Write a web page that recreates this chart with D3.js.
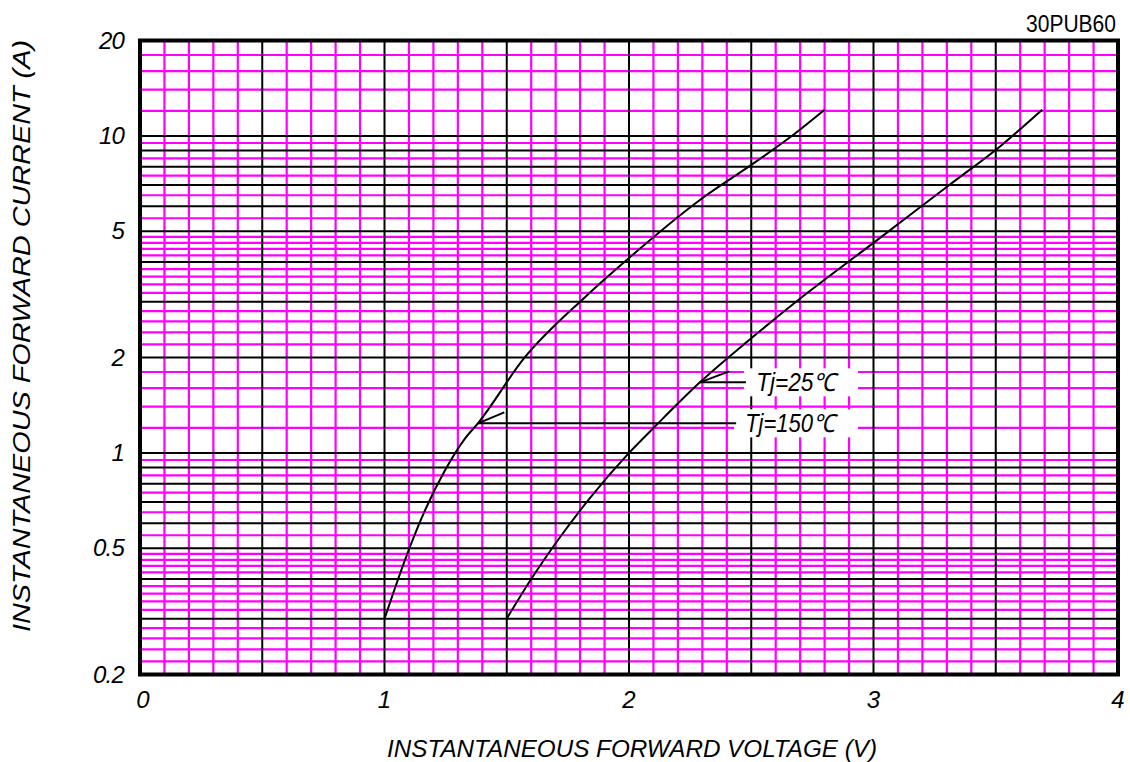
<!DOCTYPE html>
<html>
<head>
<meta charset="utf-8">
<script src="https://cdn.jsdelivr.net/npm/d3@7"></script>
<style>
  html, body { margin: 0; padding: 0; background: #fff; }
  svg { display: block; }
  text { font-family: "Liberation Sans", Arial, sans-serif; fill: #000; }
</style>
</head>
<body>
<svg id="chart" width="1130" height="762"></svg>
<script>
// Forward voltage (V) vs. forward current (A), 30PUB60
const voltageTicks = [0, 1, 2, 3, 4];
const currentTicks = [0.2, 0.5, 1, 2, 5, 10, 20];
const currentTickLabels = ["0.2", "0.5", "1", "2", "5", "10", "20"];

// Tj = 150 °C
const v150 = [1.00, 1.043, 1.084, 1.166, 1.247, 1.329, 1.382, 1.571, 1.82, 2.00, 2.29, 2.50, 2.66, 2.80];
const i150 = [0.30, 0.375, 0.46, 0.66, 0.88, 1.11, 1.24, 1.99, 3.10, 4.12, 6.28, 8.10, 9.92, 12.1];

// Tj = 25 °C
const v25 = [1.50, 1.60, 1.72, 1.84, 2.00, 2.11, 2.29, 2.50, 2.70, 3.00, 3.31, 3.52, 3.69];
const i25 = [0.30, 0.40, 0.545, 0.72, 1.00, 1.22, 1.67, 2.30, 3.07, 4.60, 7.00, 9.30, 12.1];

const seriesLabels = ["Tj=25\u2103", "Tj=150\u2103"];
const partName = "30PUB60";
const xTitle = "INSTANTANEOUS FORWARD VOLTAGE (V)";
const yTitle = "INSTANTANEOUS FORWARD CURRENT (A)";

const svg = d3.select("#chart");
const x = d3.scaleLinear().domain([0, 4]).range([140, 1118]);
const y = d3.scaleLog().domain([0.2, 20]).range([674.5, 40.5]);

const MAGENTA = "#ff00ff";

// grid positions
const vMinor = d3.range(1, 40).map(d => d / 10).filter(d => Math.abs(d * 2 - Math.round(d * 2)) > 1e-6);
const vMajor = [0.5, 1, 1.5, 2, 2.5, 3, 3.5];
const iMajor = [0.3, 0.4, 0.5, 0.6, 0.7, 0.8, 0.9, 1, 2, 3, 4, 5, 6, 7, 8, 9, 10];
const iMinor = [
  0.22, 0.24, 0.26, 0.28, 0.32, 0.34, 0.36, 0.38, 0.42, 0.44, 0.46, 0.48,
  0.55, 0.65, 0.75, 0.85, 0.95,
  1.2, 1.4, 1.6, 1.8, 2.2, 2.4, 2.6, 2.8, 3.2, 3.4, 3.6, 3.8, 4.2, 4.4, 4.6, 4.8,
  5.5, 6.5, 7.5, 8.5, 9.5,
  12, 14, 16, 18
];

const [x0, x1] = x.range();
const [yb, yt] = y.range();

const grid = svg.append("g");
// magenta minor lines
grid.selectAll(".hm").data(iMinor).join("line")
  .attr("x1", x0).attr("x2", x1)
  .attr("y1", d => y(d)).attr("y2", d => y(d))
  .attr("stroke", MAGENTA).attr("stroke-width", 2.2);
grid.selectAll(".vm").data(vMinor).join("line")
  .attr("y1", yb).attr("y2", yt)
  .attr("x1", d => x(d)).attr("x2", d => x(d))
  .attr("stroke", MAGENTA).attr("stroke-width", 2.2);
// black major lines
grid.selectAll(".hb").data(iMajor).join("line")
  .attr("x1", x0).attr("x2", x1)
  .attr("y1", d => y(d)).attr("y2", d => y(d))
  .attr("stroke", "#000").attr("stroke-width", 2);
grid.selectAll(".vb").data(vMajor).join("line")
  .attr("y1", yb).attr("y2", yt)
  .attr("x1", d => x(d)).attr("x2", d => x(d))
  .attr("stroke", "#000").attr("stroke-width", 2);

// curves
const line = d3.line().x(d => x(d[0])).y(d => y(d[1])).curve(d3.curveMonotoneX);
const curves = [d3.zip(v150, i150), d3.zip(v25, i25)];
svg.selectAll(".curve").data(curves).join("path")
  .attr("d", line)
  .attr("fill", "none").attr("stroke", "#000").attr("stroke-width", 2);

// series labels with leaders
const labelInfo = [
  { text: seriesLabels[0], anchorV: 2.29, anchorI: 1.67, boxV: 2.47, tipV: 2.41, textV: 2.52, w: 80 },
  { text: seriesLabels[1], anchorV: 1.382, anchorI: 1.24, boxV: 2.43, tipV: 1.49, textV: 2.475, w: 90 }
];
const lab = svg.append("g");
labelInfo.forEach(L => {
  const ay = y(L.anchorI);
  lab.append("rect")
    .attr("x", x(L.boxV)).attr("y", ay - 14)
    .attr("width", 858 - x(L.boxV)).attr("height", 28)
    .attr("fill", "#fff");
  lab.append("line")
    .attr("x1", x(L.anchorV)).attr("x2", x(L.boxV) + 2)
    .attr("y1", ay).attr("y2", ay)
    .attr("stroke", "#000").attr("stroke-width", 2);
  lab.append("line")
    .attr("x1", x(L.anchorV)).attr("y1", ay)
    .attr("x2", x(L.tipV)).attr("y2", ay - 11)
    .attr("stroke", "#000").attr("stroke-width", 2);
  lab.append("text")
    .attr("x", x(L.textV)).attr("y", ay + 9)
    .attr("font-size", 25).attr("font-style", "italic")
    .attr("textLength", L.w).attr("lengthAdjust", "spacingAndGlyphs")
    .text(L.text);
});

// frame
svg.append("rect")
  .attr("x", x0).attr("y", yt)
  .attr("width", x1 - x0).attr("height", yb - yt)
  .attr("fill", "none").attr("stroke", "#000").attr("stroke-width", 4);

// tick labels
svg.selectAll(".ytl").data(currentTicks).join("text")
  .attr("x", 124).attr("y", d => y(d) + 8)
  .attr("text-anchor", "end")
  .attr("font-size", 24).attr("font-style", "italic")
  .attr("letter-spacing", -0.8)
  .text((d, i) => currentTickLabels[i]);

svg.selectAll(".xtl").data(voltageTicks).join("text")
  .attr("x", d => x(d) + (d === 0 ? 3 : 0)).attr("y", 708)
  .attr("text-anchor", "middle")
  .attr("font-size", 24).attr("font-style", "italic")
  .text(d => d);

// titles
svg.append("text")
  .attr("x", 632).attr("y", 757)
  .attr("text-anchor", "middle")
  .attr("font-size", 23).attr("font-style", "italic")
  .attr("textLength", 490).attr("lengthAdjust", "spacingAndGlyphs")
  .text(xTitle);

svg.append("text")
  .attr("transform", "translate(30,336) rotate(-90)")
  .attr("text-anchor", "middle")
  .attr("font-size", 23).attr("font-style", "italic")
  .attr("textLength", 592).attr("lengthAdjust", "spacingAndGlyphs")
  .text(yTitle);

svg.append("text")
  .attr("x", 1116).attr("y", 32)
  .attr("text-anchor", "end")
  .attr("font-size", 23)
  .attr("textLength", 90).attr("lengthAdjust", "spacingAndGlyphs")
  .text(partName);
</script>
</body>
</html>
